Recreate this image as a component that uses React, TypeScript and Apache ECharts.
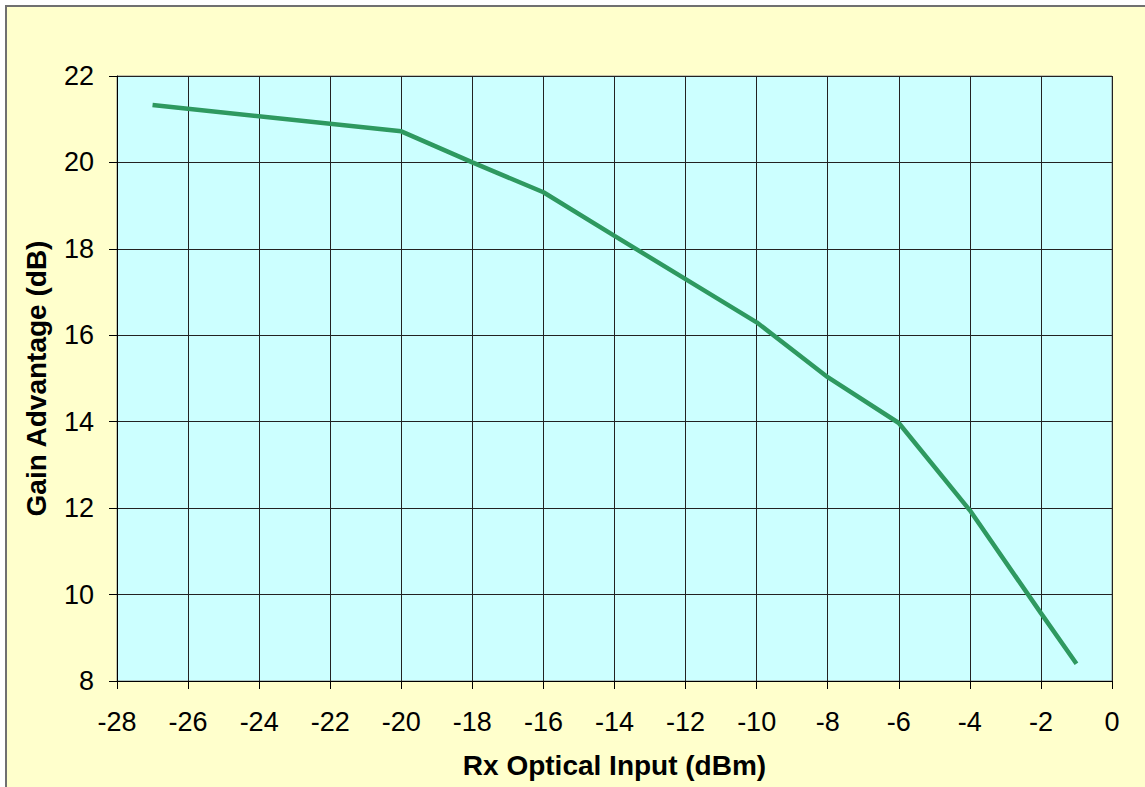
import React, { useEffect, useRef } from "react";
import * as echarts from "echarts";

const rxInput = [-27, -20, -18, -16, -14, -12, -10, -8, -6, -4, -2, -1];
const gainAdvantage = [21.33, 20.72, 20.0, 19.31, 18.3, 17.3, 16.3, 15.03, 13.97, 11.95, 9.57, 8.4];
const xTitle = "Rx Optical Input (dBm)";
const yTitle = "Gain Advantage (dB)";

export default function App() {
  const ref = useRef<HTMLDivElement>(null);
  useEffect(() => {
    document.body.style.margin = "0";
    if (!ref.current) return;
    const chart = echarts.init(ref.current, null, { renderer: "svg" });
    const font = "'Liberation Sans', Arial, sans-serif";
    chart.setOption({
      animation: false,
      backgroundColor: "#ffffff",
      graphic: [
        {
          type: "rect",
          z: -100,
          silent: true,
          shape: { x: 6, y: 6, width: 1300, height: 1000 },
          style: { fill: "#FFFFCC", stroke: "#707070", lineWidth: 2 },
        },
      ],
      grid: {
        left: 117,
        top: 76,
        right: 33,
        bottom: 106,
        show: true,
        backgroundColor: "#CCFFFF",
        borderColor: "#8a8a8a",
        borderWidth: 1,
      },
      xAxis: {
        type: "value",
        min: -28,
        max: 0,
        interval: 2,
        name: xTitle,
        nameLocation: "middle",
        nameGap: 70,
        nameTextStyle: { fontFamily: font, fontSize: 28, fontWeight: "bold", color: "#000" },
        axisLine: { show: true, onZero: false, lineStyle: { color: "#000", width: 1 } },
        axisTick: { show: true, length: 8, lineStyle: { color: "#000" } },
        axisLabel: { margin: 27, fontFamily: font, fontSize: 27, color: "#000" },
        splitLine: { show: true, lineStyle: { color: "#222", width: 1 } },
      },
      yAxis: {
        type: "value",
        min: 8,
        max: 22,
        interval: 2,
        name: yTitle,
        nameLocation: "middle",
        nameGap: 67,
        nameTextStyle: { fontFamily: font, fontSize: 28, fontWeight: "bold", color: "#000" },
        axisLine: { show: true, onZero: false, lineStyle: { color: "#000", width: 1 } },
        axisTick: { show: true, length: 8, lineStyle: { color: "#000" } },
        axisLabel: { margin: 23, fontFamily: font, fontSize: 27, color: "#000" },
        splitLine: { show: true, lineStyle: { color: "#222", width: 1 } },
      },
      series: [
        {
          type: "line",
          data: rxInput.map((x, i) => [x, gainAdvantage[i]]),
          symbol: "none",
          lineStyle: { color: "#2E9960", width: 4.5 },
        },
      ],
    });
    return () => chart.dispose();
  }, []);
  return <div ref={ref} style={{ width: 1145, height: 787 }} />;
}
